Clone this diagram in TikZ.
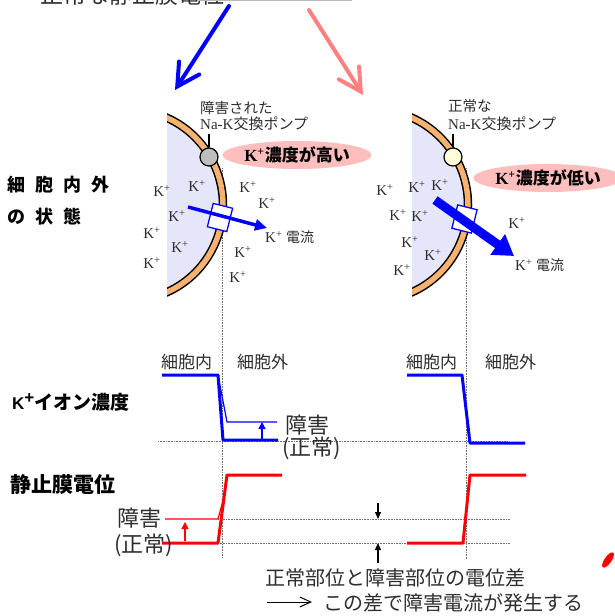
\documentclass[tikz,border=0pt]{standalone}
\usepackage{fontspec}
\setmainfont{Liberation Serif}
\newfontfamily\jp{Noto Sans CJK JP}
\newfontfamily\hv{Liberation Sans}
\usetikzlibrary{arrows.meta,shapes.geometric}

\definecolor{membrane}{RGB}{246,178,110}
\definecolor{cyto}{RGB}{230,230,250}
\definecolor{pinkcloud}{RGB}{255,190,190}
\definecolor{pinkarrow}{RGB}{255,128,128}
\definecolor{pumpgray}{RGB}{190,190,190}
\definecolor{pumpcream}{RGB}{255,255,215}
\definecolor{guide}{RGB}{110,110,110}
\definecolor{ink}{RGB}{45,45,45}

\newcommand\kion{K\textsuperscript{+}}
\newcommand\fs[1]{\fontsize{#1}{#1}\selectfont}

\tikzset{
  txt/.style={inner sep=0pt, text=ink},
  ion/.style={txt, font=\fs{15}},
  jplbl/.style={txt, anchor=west, font=\jp\fs{#1}},
  headline/.style={inner sep=0pt, anchor=west, text=black, font=\jp\bfseries\fs{#1}},
  guideline/.style={guide, line width=0.6pt, densely dotted},
  cellfill/.style={fill=cyto},
  membraneout/.style={black, line width=8.5pt},
  membranein/.style={membrane, line width=5.5pt},
  pump/.style={circle, draw=black, line width=1.2pt, minimum size=18pt, inner sep=0pt},
  channel/.style={draw=blue, fill=white, line width=1.3pt, minimum width=20pt, minimum height=24pt, inner sep=0pt, rotate=-14},
  cloud/.style={ellipse, fill=pinkcloud, minimum width=134pt, minimum height=28pt, inner sep=0pt, text=black, font=\bfseries\fs{17}},
  bigarrow/.style={line width=4pt, line cap=round, -{Straight Barb[length=22pt,width=24pt,line cap=round]}},
  thickcurve/.style={line width=3pt, line join=round},
  thincurve/.style={line width=1.2pt, line join=round},
  marker/.style={line width=1.5pt, -{Triangle[length=7pt,width=7pt]}},
}

\begin{document}
\begin{tikzpicture}[x=1pt,y=-1pt]
\useasboundingbox (0,0) rectangle (614,616);

% heading cut by the top edge
\node[jplbl=23] (title) at (40,-5.5) {正常な静止膜電位};
\coordinate (barA) at (197,0.6);
\coordinate (barB) at (352,0.6);
\draw[gray!55, line width=1.2pt] (barA) -- (barB);

% two branches
\coordinate (brLs) at (229,6);
\coordinate (brLe) at (175,90);
\coordinate (brRs) at (309,10);
\coordinate (brRe) at (363,95);
\draw[blue, bigarrow] (brLs) -- (brLe);
\draw[pinkarrow, bigarrow] (brRs) -- (brRe);

% vertical guides (membrane position)
\coordinate (gLt) at (222,168); \coordinate (gLb) at (222,558);
\coordinate (gRt) at (466,168); \coordinate (gRb) at (466,559);
\draw[guideline] (gLt) -- (gLb);
\draw[guideline] (gRt) -- (gRb);

% ---------- injured cell ----------
\begin{scope}
  \clip (167,100) rectangle (300,310);
  \fill[cellfill] (130,205) ellipse [x radius=93, y radius=95];
  \draw[membraneout] (130,205) ellipse [x radius=93, y radius=95];
  \draw[membranein] (130,205) ellipse [x radius=93, y radius=95];
\end{scope}
\node[pump, fill=pumpgray] (pumpL) at (209,157) {};
\coordinate (pumpLtag) at (209,134);
\draw[line width=1.2pt] (pumpL.north) -- (pumpLtag);
\node[jplbl=14.5] (pumpLa) at (200,107.5) {障害された};
\node[txt, anchor=west, font=\fs{15}] (pumpLb) at (200,124) {Na-K{\jp\fs{15}交換ポンプ}};
\node[cloud] (cloudL) at (297,155) {\kion{\jp\bfseries 濃度が高い}};

\node[ion] (kL1) at (162,191) {\kion};
\node[ion] (kL2) at (197,186) {\kion};
\node[ion] (kL3) at (177,216) {\kion};
\node[ion] (kL4) at (152,233) {\kion};
\node[ion] (kL5) at (180,247) {\kion};
\node[ion] (kL6) at (152,263) {\kion};
\node[ion] (kL7) at (248,187) {\kion};
\node[ion] (kL8) at (267,203) {\kion};
\node[ion] (kL9) at (243,252) {\kion};
\node[ion] (kL10) at (238,277) {\kion};

\node[channel] (chanL) at (220,217.5) {};
\coordinate (flowLs) at (188,207);
\coordinate (flowLe) at (267,228);
\draw[blue, line width=3.5pt, -{Triangle[length=12pt,width=11pt]}] (flowLs) -- (flowLe);
\node[txt, anchor=west, font=\fs{15}] (curL) at (265,237) {\kion\ {\jp\fs{14}電流}};

% ---------- normal cell ----------
\begin{scope}
  \clip (412,100) rectangle (545,310);
  \fill[cellfill] (375,205) ellipse [x radius=93, y radius=95];
  \draw[membraneout] (375,205) ellipse [x radius=93, y radius=95];
  \draw[membranein] (375,205) ellipse [x radius=93, y radius=95];
\end{scope}
\node[pump, fill=pumpcream] (pumpR) at (453,157) {};
\coordinate (pumpRtag) at (453,134);
\draw[line width=1.2pt] (pumpR.north) -- (pumpRtag);
\node[jplbl=14.5] (pumpRa) at (448,106) {正常な};
\node[txt, anchor=west, font=\fs{15}] (pumpRb) at (448,124) {Na-K{\jp\fs{15}交換ポンプ}};
\node[cloud] (cloudR) at (548,178) {\kion{\jp\bfseries 濃度が低い}};

\node[ion] (kR1) at (385,190) {\kion};
\node[ion] (kR2) at (417,187) {\kion};
\node[ion] (kR3) at (440,185) {\kion};
\node[ion] (kR4) at (398,215) {\kion};
\node[ion] (kR5) at (420,216) {\kion};
\node[ion] (kR6) at (410,242) {\kion};
\node[ion] (kR7) at (433,255) {\kion};
\node[ion] (kR8) at (402,270) {\kion};
\node[ion] (kR9) at (517,223) {\kion};

\node[channel] (chanR) at (464.5,219) {};
\coordinate (flowRs) at (435,200);
\coordinate (flowRe) at (514,256);
\draw[blue, line width=9pt, -{Triangle[length=20pt,width=24pt]}] (flowRs) -- (flowRe);
\node[txt, anchor=west, font=\fs{15}] (curR) at (515,265) {\kion\ {\jp\fs{14}電流}};

% row titles
\node[headline=18] (rowA1) at (7,185) {細\hspace{10pt}胞\hspace{10pt}内\hspace{10pt}外};
\node[headline=18] (rowA2) at (7,217) {の\hspace{10pt}状\hspace{10pt}態};
\node[inner sep=0pt, anchor=west] (rowB) at (12,402) {{\hv\bfseries\fs{17}K\raisebox{6pt}{+}}{\jp\bfseries\fs{19}イオン濃度}};
\node[headline=21] (rowC) at (10,485) {静止膜電位};

% ---------- K+ concentration profiles ----------
\node[jplbl=17] (inL) at (161,362) {細胞内};
\node[jplbl=17] (outL) at (237,362) {細胞外};
\node[jplbl=17] (inR) at (406,362) {細胞内};
\node[jplbl=17] (outR) at (485,362) {細胞外};

\coordinate (zeroA) at (158,441); \coordinate (zeroB) at (507,441);
\draw[guideline] (zeroA) -- (zeroB);

\draw[blue, thickcurve] (162,375) -- (218,375) -- (223,440) -- (278,440);
\draw[blue, thincurve] (218,375) -- (227,422) -- (277,422);
\coordinate (riseKa) at (262,440); \coordinate (riseKb) at (262,422);
\draw[blue, marker] (riseKa) -- (riseKb);
\node[jplbl=22] (injK) at (285,425) {障害};
\node[jplbl=22] (norK) at (282,448) {(正常)};

\draw[blue, thickcurve] (407,375) -- (462,375) -- (470,443) -- (525,443);

% ---------- resting potential profiles ----------
\coordinate (lvA1) at (218,519); \coordinate (lvA2) at (510,519);
\coordinate (lvB1) at (218,543); \coordinate (lvB2) at (510,543);
\draw[guideline] (lvA1) -- (lvA2);
\draw[guideline] (lvB1) -- (lvB2);

\draw[red, thickcurve] (162,543) -- (218,543) -- (227,475) -- (282,475);
\draw[red, thincurve] (165,519) -- (218,519) -- (224,497);
\coordinate (riseVa) at (185,541); \coordinate (riseVb) at (185,522);
\draw[red, marker] (riseVa) -- (riseVb);
\node[jplbl=22] (injV) at (117,518) {障害};
\node[jplbl=22] (norV) at (114,545) {(正常)};

\draw[red, thickcurve] (407,543) -- (463,543) -- (470,475) -- (526,475);

% potential difference markers
\coordinate (dnA) at (378,503); \coordinate (dnB) at (378,519);
\coordinate (upA) at (378,563); \coordinate (upB) at (378,543);
\draw[black, line width=1.3pt, -{Triangle[length=7pt,width=6pt]}] (dnA) -- (dnB);
\draw[black, line width=1.3pt, -{Triangle[length=7pt,width=6pt]}] (upA) -- (upB);

\node[jplbl=20] (diff) at (265,578) {正常部位と障害部位の電位差};
\coordinate (thenA) at (267,602); \coordinate (thenB) at (312,602);
\draw[black, line width=1pt, -{Straight Barb[length=11pt,width=10pt]}] (thenA) -- (thenB);
\node[jplbl=20] (result) at (323,603) {この差で障害電流が発生する};

% stray red pen mark
\fill[red, rotate around={-35:(608,560)}] (608,560) ellipse [x radius=3.5, y radius=9];
\end{tikzpicture}
\end{document}
